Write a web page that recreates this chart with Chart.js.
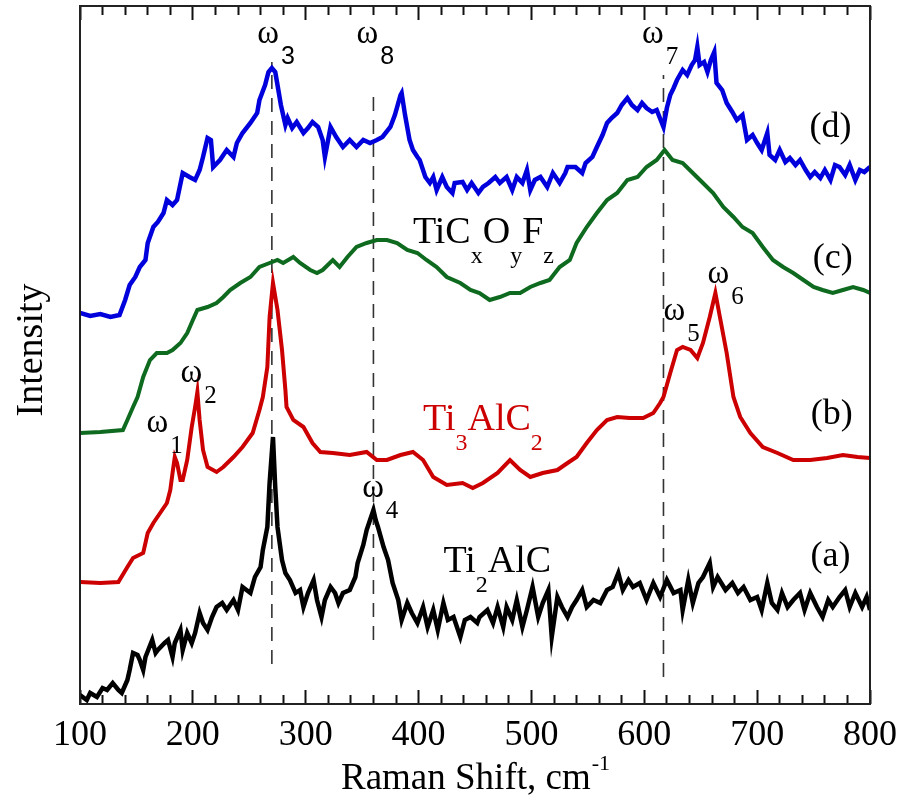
<!DOCTYPE html>
<html>
<head>
<meta charset="utf-8">
<script src="https://cdn.jsdelivr.net/npm/chart.js@4.4.1/dist/chart.umd.min.js"></script>
<style>
  html, body { margin: 0; padding: 0; background: #fff; }
  canvas { display: block; }
</style>
</head>
<body>
<canvas id="chart" width="904" height="801"></canvas>
<script>
// Raman spectra, x = Raman shift (cm-1), y = intensity (arb. units, offset per trace)

// (d) blue
const shiftD = [100,109,118,127,135,140,144,149,153,158,160,165,169,174,177,182,186,191,197,202,206,209,213,216,218,224,230,236,239,244,251,257,259,264,267,270,273,275,278,282,284,288,292,298,302,306,311,315,317,322,327,333,339,345,351,357,363,368,375,379,384,385,388,392,395,399,401,406,410,413,416,421,425,430,432,439,443,447,453,457,462,468,472,478,483,487,492,496,499,503,508,514,519,525,530,532,539,545,548,554,558,563,567,571,576,580,585,589,594,598,602,607,611,617,620,623,626,629,634,638,642,645,647,649,653,656,659,662,664,669,673,678,682,687,691,696,700,704,709,711,716,720,725,729,734,738,743,747,751,756,760,765,769,773,778,782,787,791,795,800];
const intD = [391,388,390,387,389,404,419,427,437,444,461,477,482,491,504,499,504,531,527,524,534,547,566,564,537,544,554,547,561,571,581,591,604,619,632,636,632,619,599,579,586,576,582,571,576,582,577,564,547,577,567,557,564,557,564,561,564,567,577,589,609,611,589,564,554,547,544,527,521,527,514,527,517,511,521,522,514,521,511,517,521,527,521,527,514,527,521,534,514,524,527,517,531,521,531,537,537,531,541,547,557,569,581,586,591,599,606,599,594,601,596,592,594,577,596,609,616,624,634,629,639,644,657,639,642,632,644,652,621,614,601,592,584,589,564,569,561,554,571,549,544,554,542,546,539,544,534,527,532,526,534,524,539,537,529,539,524,534,532,537];

// (c) green
const shiftC = [100,118,138,142,147,151,156,162,168,177,182,189,195,200,204,213,221,227,233,242,251,259,268,275,280,289,295,304,310,315,324,330,337,345,354,363,372,381,390,399,407,416,425,437,446,454,463,472,481,490,499,508,516,525,534,540,549,558,567,576,585,594,602,611,618,625,634,643,652,661,670,679,687,696,705,714,723,732,741,750,758,767,776,785,794,800];
const intC = [271,272,274,284,297,307,327,344,351,351,354,361,371,384,394,397,401,407,414,421,427,437,441,444,441,447,441,434,431,434,444,437,447,457,461,464,464,461,454,451,444,437,427,421,414,411,404,407,411,411,417,421,424,437,444,461,477,491,504,511,524,527,537,544,554,544,541,531,521,511,497,487,477,471,457,444,437,431,424,417,414,411,414,417,414,411];

// (b) red, Ti3AlC2
const shiftB = [100,118,134,142,147,156,160,165,171,177,180,182,184,186,189,191,195,199,202,204,206,209,213,221,227,236,244,253,259,262,266,268,271,275,279,282,283,289,298,306,313,324,339,354,363,372,384,395,404,413,425,439,448,457,470,481,490,499,510,523,532,540,549,558,567,576,587,599,608,614,617,623,629,634,641,647,652,658,663,667,673,679,685,694,705,718,732,747,762,776,789,800];
const intB = [122,121,122,137,146,151,171,181,191,201,214,231,247,241,224,224,244,277,297,312,284,254,237,232,237,247,257,271,294,307,337,387,421,394,354,314,297,284,277,261,252,251,249,252,244,244,249,252,244,227,219,221,216,221,231,244,234,227,231,234,241,247,261,274,284,287,286,286,291,301,307,331,354,357,354,346,361,387,411,387,351,307,287,271,257,251,244,244,246,249,247,246];

// (a) black, Ti2AlC
const shiftA = [100,106,109,115,120,124,129,134,137,142,144,147,151,153,156,158,164,167,169,175,178,182,184,189,191,195,199,202,206,209,213,217,221,226,230,236,240,244,251,255,260,262,266,268,271,273,275,279,282,286,291,295,298,302,307,310,314,317,322,326,329,333,339,344,346,351,354,357,360,362,364,369,373,377,382,385,390,394,399,404,408,413,417,422,426,431,437,441,446,452,454,461,466,470,475,478,483,487,492,496,501,506,510,515,518,523,527,532,536,540,545,549,555,561,567,572,577,581,586,590,596,602,608,614,620,626,632,634,639,643,648,652,658,661,665,672,678,683,688,694,700,704,709,713,718,722,727,732,738,742,747,753,758,763,767,773,778,782,787,793,797,800];
const intA = [9,4,11,7,16,14,21,14,11,24,34,51,49,44,34,47,64,51,54,61,64,47,61,74,54,71,61,71,91,81,74,87,97,101,94,104,94,117,111,127,137,154,177,221,267,217,177,144,131,124,111,114,97,111,124,104,87,104,117,111,101,111,114,127,141,159,174,184,194,184,177,157,144,121,104,84,101,91,81,97,77,94,74,101,84,87,67,84,87,81,87,94,81,97,77,97,84,104,77,94,117,87,101,114,67,107,97,87,97,104,114,97,104,101,114,117,131,114,124,117,121,104,121,107,124,111,114,94,124,101,121,127,141,117,127,114,121,111,117,104,107,94,121,101,94,111,97,104,111,94,111,97,87,104,97,107,114,97,111,97,107,94];

// dashed mode markers: position and vertical extent
const modeShift = [270, 360, 617];
const modeLow = [40, 64, 27];
const modeHigh = [642, 610, 629];

const xMin = 100, xMax = 800, yMin = 0, yMax = 698;
const majorTicks = [100, 200, 300, 400, 500, 600, 700, 800];
const minorTicks = [120, 140, 160, 180, 220, 240, 260, 280, 320, 340, 360, 380, 420, 440, 460, 480,
    520, 540, 560, 580, 620, 640, 660, 680, 720, 740, 760, 780];

const serif = "'Liberation Serif', 'Times New Roman', serif";
const sans = "'Liberation Sans', Arial, sans-serif";

// annotation texts: anchor in data coords, parts [text, isSub]
const notes = [
    { x: 257, y: 661, font: sans, parts: [['ω', 0], ['3', 1]] },
    { x: 345, y: 661, font: sans, parts: [['ω', 0], ['8', 1]] },
    { x: 598, y: 661, font: serif, parts: [['ω', 0], ['7', 1]] },
    { x: 159, y: 272, font: serif, parts: [['ω', 0], ['1', 1]] },
    { x: 189, y: 322, font: serif, parts: [['ω', 0], ['2', 1]] },
    { x: 350, y: 207, font: serif, parts: [['ω', 0], ['4', 1]] },
    { x: 617, y: 384, font: serif, parts: [['ω', 0], ['5', 1]] },
    { x: 656, y: 421, font: serif, parts: [['ω', 0], ['6', 1]] }
];
const formulas = [
    { x: 395, y: 461, color: '#000', parts: [['TiC', 0], ['x', 1], ['O', 0], ['y', 1], ['F', 0], ['z', 1]] },
    { x: 404, y: 274, color: '#cc0000', parts: [['Ti', 0], ['3', 1], ['AlC', 0], ['2', 1]] },
    { x: 422, y: 132, color: '#000', parts: [['Ti', 0], ['2', 1], ['AlC', 0]] }
];
const traceTags = [
    { x: 765, y: 576, text: '(d)' },
    { x: 767, y: 445, text: '(c)' },
    { x: 766, y: 289, text: '(b)' },
    { x: 765, y: 147, text: '(a)' }
];

function pts(xs, ys) {
    return xs.map((x, i) => ({ x: x, y: ys[i] }));
}

function trace(data, color, width) {
    return {
        data: data,
        showLine: true,
        borderColor: color,
        borderWidth: width,
        pointRadius: 0,
        tension: 0,
        borderJoinStyle: 'miter'
    };
}

const datasets = [
    trace(pts(shiftA, intA), '#000000', 4.5),
    trace(pts(shiftB, intB), '#cc0000', 4),
    trace(pts(shiftC, intC), '#0e6a1e', 4),
    trace(pts(shiftD, intD), '#0000dd', 4.5)
];
modeShift.forEach((s, i) => {
    datasets.push({
        data: [{ x: s, y: modeLow[i] }, { x: s, y: modeHigh[i] }],
        showLine: true,
        borderColor: '#333',
        borderWidth: 1.6,
        borderDash: [14, 9],
        pointRadius: 0
    });
});

// extra x axes that only carry inward tick marks (negative tick length)
function tickAxis(position, values, len, weight) {
    return {
        type: 'linear',
        position: position,
        weight: weight,
        min: xMin,
        max: xMax,
        afterBuildTicks: scale => { scale.ticks = values.map(v => ({ value: v })); },
        afterFit: scale => {
            scale.height = 0;
            scale.paddingLeft = 0;
            scale.paddingRight = 0;
        },
        grid: {
            display: true,
            drawOnChartArea: false,
            drawTicks: true,
            tickLength: -len,
            tickWidth: 2,
            tickColor: '#111'
        },
        border: { display: false },
        ticks: { display: false }
    };
}

const frame = {
    id: 'frame',
    afterDatasetsDraw(chart) {
        const ctx = chart.ctx;
        const a = chart.chartArea;
        ctx.save();
        ctx.setLineDash([]);
        ctx.strokeStyle = '#222';
        ctx.lineWidth = 2;
        ctx.strokeRect(Math.round(a.left), Math.round(a.top),
            Math.round(a.right) - Math.round(a.left), Math.round(a.bottom) - Math.round(a.top));
        ctx.restore();
    }
};

const decor = {
    id: 'decor',
    afterDraw(chart) {
        const ctx = chart.ctx;
        const xs = chart.scales.x, ys = chart.scales.y;
        const a = chart.chartArea;
        ctx.save();

        // axis titles
        ctx.fillStyle = '#000';
        ctx.textBaseline = 'alphabetic';
        ctx.font = '37px ' + serif;
        const main = 'Raman Shift, cm';
        const mw = ctx.measureText(main).width;
        ctx.font = '22px ' + serif;
        const sw = ctx.measureText('-1').width;
        const x0 = (a.left + a.right) / 2 - (mw + sw) / 2;
        ctx.font = '37px ' + serif;
        ctx.textAlign = 'left';
        ctx.fillText(main, x0, 789);
        ctx.font = '22px ' + serif;
        ctx.fillText('-1', x0 + mw + 1, 770);

        ctx.save();
        ctx.translate(42, 350);
        ctx.rotate(-Math.PI / 2);
        ctx.textAlign = 'center';
        ctx.font = '38px ' + serif;
        ctx.fillText('Intensity', 0, 0);
        ctx.restore();

        // mode labels
        notes.forEach(n => {
            let px = xs.getPixelForValue(n.x);
            const py = ys.getPixelForValue(n.y);
            ctx.fillStyle = '#000';
            ctx.textAlign = 'left';
            n.parts.forEach(([t, sub]) => {
                ctx.font = sub ? '25px ' + n.font : '33px ' + serif;
                ctx.fillText(t, px, sub ? py + 21 : py);
                px += ctx.measureText(t).width + (sub ? 0 : 2);
            });
        });

        // compound formulas
        formulas.forEach(f => {
            let px = xs.getPixelForValue(f.x);
            const py = ys.getPixelForValue(f.y);
            ctx.fillStyle = f.color;
            ctx.textAlign = 'left';
            f.parts.forEach(([t, sub]) => {
                ctx.font = sub ? '24px ' + serif : '38px ' + serif;
                ctx.fillText(t, px, sub ? py + 20 : py);
                px += ctx.measureText(t).width;
            });
        });

        // trace tags
        ctx.fillStyle = '#000';
        ctx.textAlign = 'center';
        ctx.textBaseline = 'middle';
        ctx.font = '36px ' + serif;
        traceTags.forEach(t => {
            ctx.fillText(t.text, xs.getPixelForValue(t.x), ys.getPixelForValue(t.y));
        });

        ctx.restore();
    }
};

new Chart(document.getElementById('chart'), {
    type: 'scatter',
    data: { datasets: datasets },
    options: {
        responsive: false,
        animation: false,
        events: [],
        layout: { padding: { left: 80, right: 34, top: 6, bottom: 0 } },
        plugins: {
            legend: { display: false },
            tooltip: { enabled: false }
        },
        scales: {
            x: {
                type: 'linear',
                position: 'bottom',
                weight: 2,
                min: xMin,
                max: xMax,
                afterBuildTicks: scale => { scale.ticks = majorTicks.map(v => ({ value: v })); },
                afterFit: scale => {
                    scale.height = 97;
                    scale.paddingLeft = 0;
                    scale.paddingRight = 0;
                },
                grid: {
                    display: true,
                    drawOnChartArea: false,
                    drawTicks: true,
                    tickLength: -14,
                    tickWidth: 2,
                    tickColor: '#111'
                },
                border: { display: false },
                ticks: {
                    color: '#000',
                    padding: 24,
                    maxRotation: 0,
                    autoSkip: false,
                    font: { family: serif, size: 36 }
                }
            },
            xMinorBottom: tickAxis('bottom', minorTicks, 9, 1),
            xMajorTop: tickAxis('top', majorTicks, 14, 1),
            xMinorTop: tickAxis('top', minorTicks, 9, 2),
            y: {
                type: 'linear',
                min: yMin,
                max: yMax,
                display: false
            }
        }
    },
    plugins: [frame, decor]
});
</script>
</body>
</html>
